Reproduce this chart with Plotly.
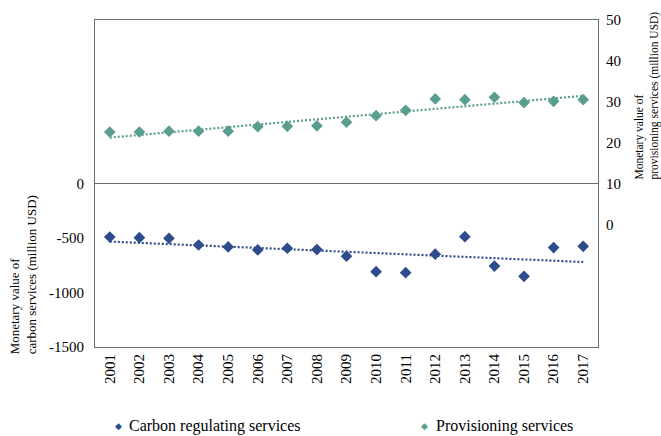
import numpy as np
import plotly.graph_objects as go

# Annual values, 2001-2017
years = [str(y) for y in range(2001, 2018)]
carbon_regulating = [-491, -497, -503, -564, -582, -609, -594, -606, -667,
                     -809, -818, -648, -488, -758, -852, -588, -576]
provisioning = [22.6, 22.6, 22.8, 22.8, 22.8, 23.9, 24.0, 24.1, 25.0,
                 26.6, 27.9, 30.7, 30.5, 31.1, 29.8, 30.1, 30.5]

left_ticks = [0, -500, -1000, -1500]
right_ticks = [0, 10, 20, 30, 40, 50]

BLUE = "#2E4B8C"
GREEN = "#5A9E8F"
AXIS = "#6b6b6b"
FONT = "Liberation Serif, Tinos, DejaVu Serif, serif"


def linear_trend(values):
    idx = np.arange(len(values))
    return np.polyval(np.polyfit(idx, values, 1), idx)


fig = go.Figure()

fig.add_trace(go.Scatter(
    x=years, y=linear_trend(carbon_regulating), mode="lines",
    line=dict(color=BLUE, width=2.2, dash="2px,2px"),
    yaxis="y", showlegend=False, hoverinfo="skip"))
fig.add_trace(go.Scatter(
    x=years, y=carbon_regulating, mode="markers", name="Carbon regulating services",
    marker=dict(symbol="diamond", size=9, color=BLUE),
    yaxis="y", showlegend=False))

fig.add_trace(go.Scatter(
    x=years, y=linear_trend(provisioning), mode="lines",
    line=dict(color=GREEN, width=2.2, dash="2px,2px"),
    yaxis="y2", showlegend=False, hoverinfo="skip"))
fig.add_trace(go.Scatter(
    x=years, y=provisioning, mode="markers", name="Provisioning services",
    marker=dict(symbol="diamond", size=9, color=GREEN),
    yaxis="y2", showlegend=False))

# plot area in pixels: x 95..598, y 15..347
L, R, T, B = 95, 63, 15, 89
W, H = 661, 436
pw, ph = W - L - R, H - T - B


def px(x):
    return (x - L) / pw


def py(y):
    return (H - B - y) / ph


annotations = [
    dict(text="Monetary value of<br>carbon services (million USD)",
         x=px(23), y=py(357), xref="paper", yref="paper",
         xanchor="center", yanchor="bottom", textangle=-90, align="left",
         showarrow=False, font=dict(family=FONT, size=13, color="black")),
    dict(text="Monetary value of<br>provisioning services (million USD)",
         x=px(647), y=py(179), xref="paper", yref="paper",
         xanchor="center", yanchor="bottom", textangle=-90, align="left",
         showarrow=False, font=dict(family=FONT, size=11.5, color="black")),
]

# legend row
for sym_x, txt_x, color, label in [(118, 127, BLUE, "Carbon regulating services"),
                                    (424, 434, GREEN, "Provisioning services")]:
    annotations.append(dict(text="◆", x=px(sym_x), y=py(427), xref="paper", yref="paper",
                            xanchor="center", yanchor="middle", showarrow=False,
                            font=dict(family="DejaVu Sans", size=9, color=color)))
    annotations.append(dict(text=label, x=px(txt_x), y=py(427), xref="paper", yref="paper",
                            xanchor="left", yanchor="middle", showarrow=False,
                            font=dict(family=FONT, size=16, color="black")))

fig.update_layout(
    width=W, height=H,
    margin=dict(l=L, r=R, t=T, b=B, pad=0),
    paper_bgcolor="white", plot_bgcolor="white",
    font=dict(family=FONT, size=15, color="black"),
    xaxis=dict(type="category", range=[-0.5, 16.5], tickangle=-90,
               showline=True, mirror=True, linecolor=AXIS, linewidth=1.2,
               showgrid=False, ticks="", tickfont=dict(family=FONT, size=15)),
    yaxis=dict(range=[-1500, 1500], tickvals=left_ticks,
               ticktext=[str(v) for v in left_ticks],
               tickfont=dict(family=FONT, size=15),
               showline=True, linecolor=AXIS, linewidth=1.2,
               zeroline=True, zerolinecolor=AXIS, zerolinewidth=1.2,
               showgrid=False, ticks="", ticklabelstandoff=7),
    yaxis2=dict(range=[-30, 50], tickvals=right_ticks,
                tickfont=dict(family=FONT, size=15),
                overlaying="y", side="right",
                showline=True, linecolor=AXIS, linewidth=1.2,
                zeroline=False, showgrid=False, ticks="", ticklabelstandoff=4),
    annotations=annotations,
    showlegend=False,
)

fig.write_html("out.html")
